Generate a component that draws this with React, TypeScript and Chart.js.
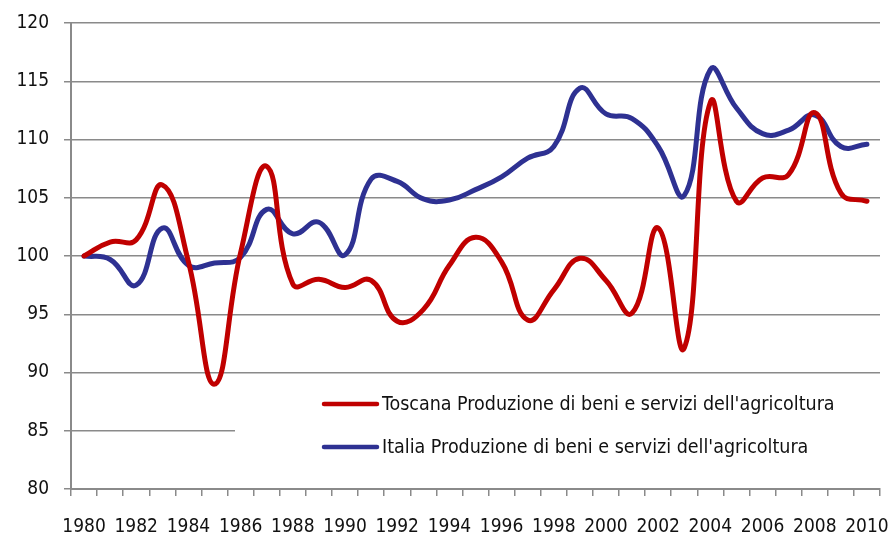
import React, { useEffect, useRef } from "react";
import { Chart, registerables } from "chart.js";

Chart.register(...registerables);

const years = [
  "1980", "1981", "1982", "1983", "1984", "1985", "1986", "1987", "1988", "1989",
  "1990", "1991", "1992", "1993", "1994", "1995", "1996", "1997", "1998", "1999",
  "2000", "2001", "2002", "2003", "2004", "2005", "2006", "2007", "2008", "2009", "2010",
];

const toscana = [
  100, 101.2, 101.4, 106.1, 99.5, 89.0, 100.3, 107.7, 97.6, 98.0,
  97.3, 97.9, 94.4, 95.4, 99.2, 101.6, 99.5, 94.5, 97.1, 99.8,
  97.9, 95.1, 102.4, 92.1, 113.2, 104.7, 106.7, 107.0, 112.3, 105.4, 104.7,
];

const italia = [
  100, 99.7, 97.5, 102.4, 99.2, 99.4, 99.9, 104.0, 101.9, 102.9,
  100.1, 106.6, 106.4, 104.9, 104.8, 105.7, 106.8, 108.4, 109.4, 114.4,
  112.2, 111.8, 109.4, 105.2, 116.0, 112.7, 110.5, 110.8, 112.1, 109.4, 109.6,
];

const seriesLabels = [
  "Toscana Produzione di beni e servizi dell'agricoltura",
  "Italia Produzione di beni e servizi dell'agricoltura",
];

const yTicks = [80, 85, 90, 95, 100, 105, 110, 115, 120];

const RED = "#C00000";
const BLUE = "#2E3192";
const GRID = "#8a8a8a";
const FONT = "'DejaVu Sans Condensed', 'Liberation Sans Narrow', 'Arial Narrow', sans-serif";

const boxLegend = {
  id: "boxLegend",
  beforeDatasetsDraw(chart: any) {
    const ctx = chart.ctx;
    const colors = [RED, BLUE];
    ctx.save();
    ctx.fillStyle = "#ffffff";
    ctx.fillRect(235, 378, 645, 100);
    ctx.font = "19.5px " + FONT;
    ctx.textBaseline = "middle";
    ctx.textAlign = "left";
    seriesLabels.forEach((label, i) => {
      const y = 404 + i * 43;
      ctx.strokeStyle = colors[i];
      ctx.lineWidth = 4.5;
      ctx.lineCap = "round";
      ctx.beginPath();
      ctx.moveTo(324, y);
      ctx.lineTo(377, y);
      ctx.stroke();
      ctx.fillStyle = "#111111";
      ctx.fillText(label, 382, y + 1);
    });
    ctx.restore();
  },
};

export default function App() {
  const ref = useRef<HTMLCanvasElement | null>(null);

  useEffect(() => {
    if (!ref.current) return;
    const chart = new Chart(ref.current, {
      type: "line",
      data: {
        labels: years,
        datasets: [
          {
            label: seriesLabels[0],
            data: toscana,
            borderColor: RED,
            backgroundColor: RED,
            borderWidth: 5,
            pointRadius: 0,
            tension: 0.45,
            borderCapStyle: "round",
            borderJoinStyle: "round",
          },
          {
            label: seriesLabels[1],
            data: italia,
            borderColor: BLUE,
            backgroundColor: BLUE,
            borderWidth: 5,
            pointRadius: 0,
            tension: 0.45,
            borderCapStyle: "round",
            borderJoinStyle: "round",
          },
        ],
      },
      options: {
        responsive: false,
        animation: false,
        layout: { padding: { left: 0, top: 23, right: 12, bottom: 0 } },
        plugins: {
          legend: { display: false },
          tooltip: { enabled: false },
        },
        scales: {
          x: {
            type: "category",
            offset: true,
            grid: {
              offset: true,
              drawOnChartArea: false,
              drawTicks: true,
              tickLength: 7,
              color: GRID,
              lineWidth: 1.5,
            },
            border: { display: true, color: GRID, width: 2 },
            ticks: {
              autoSkip: false,
              maxRotation: 0,
              minRotation: 0,
              padding: 20,
              color: "#111111",
              font: { family: FONT, size: 19 },
              callback: (_v: any, i: number) => (i % 2 === 0 ? years[i] : ""),
            },
            afterFit: (s: any) => {
              s.height = 46;
              s.paddingLeft = 0;
              s.paddingRight = 0;
            },
          },
          y: {
            min: 80,
            max: 120,
            afterBuildTicks: (s: any) => {
              s.ticks = yTicks.map((v) => ({ value: v }));
            },
            grid: {
              color: GRID,
              lineWidth: 1.5,
              tickLength: 7,
            },
            border: { display: true, color: GRID, width: 2 },
            ticks: {
              padding: 15,
              color: "#111111",
              font: { family: FONT, size: 19 },
            },
            afterFit: (s: any) => {
              s.width = 71;
              s.paddingTop = 0;
              s.paddingBottom = 0;
            },
          },
        },
      },
      plugins: [boxLegend],
    });
    return () => chart.destroy();
  }, []);

  return (
    <div style={{ position: "fixed", left: 0, top: 0, width: 892, height: 535, background: "#fff" }}>
      <canvas ref={ref} width={892} height={535} />
    </div>
  );
}
